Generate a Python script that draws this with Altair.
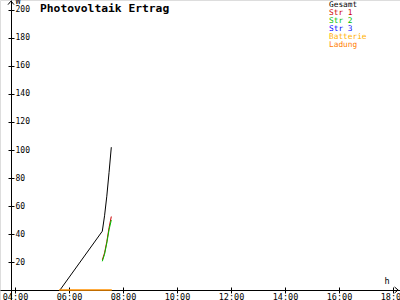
import altair as alt
import pandas as pd


def hours(s):
    h, m = s.split(":")
    return int(h) + int(m) / 60.0


# ---- data ----
series_names = ["Gesamt", "Str 1", "Str 2", "Str 3", "Batterie", "Ladung"]
series_colors = ["#000000", "#cc0000", "#00c000", "#0000ff", "#ffb000", "#ff8000"]

gesamt_times = ["05:40", "07:14", "07:19", "07:24", "07:29", "07:34"]
gesamt_values = [0, 42, 53, 67, 84, 102]

str_times = ["07:14", "07:19", "07:24", "07:29", "07:34"]
str1_values = [21.5, 26.5, 34.5, 44.5, 52.5]
str2_values = [20.5, 25.5, 33.5, 43, 50]

batterie_times = ["05:38", "07:35"]
batterie_values = [0, 0]
ladung_times = ["05:38", "07:35"]
ladung_values = [0, 0]

x_ticks = [4, 6, 8, 10, 12, 14, 16, 18]
y_ticks = [20, 40, 60, 80, 100, 120, 140, 160, 180, 200]

title_text = "Photovoltaik Ertrag"
x_unit = "h"
y_unit = "W"

# ---- long table ----
rows = []
for name, times, vals in [
    ("Gesamt", gesamt_times, gesamt_values),
    ("Str 1", str_times, str1_values),
    ("Str 2", str_times, str2_values),
    ("Batterie", batterie_times, batterie_values),
    ("Ladung", ladung_times, ladung_values),
]:
    for i, (t, v) in enumerate(zip(times, vals)):
        rows.append({"series": name, "t": hours(t), "v": v, "i": i})
df = pd.DataFrame(rows)

# axis ends (arrow tips) in data units
x_min, x_max = 3.444, 18.259
y_min, y_max = -7.14, 207.14
arrows_x = pd.DataFrame({"t": [18.19], "v": [0]})
arrows_y = pd.DataFrame({"t": [3.852], "v": [206.4]})

FONT = "DejaVu Sans Mono"
xs = alt.Scale(domain=[x_min, x_max], nice=False, zero=False)
ys = alt.Scale(domain=[y_min, y_max], nice=False, zero=False)
cs = alt.Scale(domain=series_names, range=series_colors)

x_axis_main = alt.Axis(
    orient="bottom", offset=-10, values=x_ticks,
    labelExpr="(datum.value < 10 ? '0' : '') + datum.value + ':00'",
    tickSize=3, labelPadding=-1, domainColor="black", tickColor="black",
    labelColor="black", labelFont=FONT, labelFontSize=8.5, labelFlush=False,
    labelOverlap=False, grid=False, title=x_unit, titleX=384, titleY=-5,
    titleAlign="left", titleBaseline="bottom", titleAngle=0, titleFont=FONT,
    titleFontSize=8.5, titleFontWeight="normal", titleColor="black",
)
y_axis_main = alt.Axis(
    orient="left", offset=-11, values=y_ticks, tickSize=3, labelPadding=-7,
    labelAlign="left", labelBaseline="middle", domainColor="black",
    tickColor="black", labelColor="black", labelFont=FONT, labelFontSize=8,
    labelFlush=False, labelOverlap=False, grid=False, title=y_unit, titleX=4,
    titleY=5, titleAlign="left", titleBaseline="bottom", titleAngle=0,
    titleFont=FONT, titleFontSize=8.5, titleFontWeight="normal", titleColor="black",
)
x_axis_inner = alt.Axis(
    orient="top", offset=-290, values=x_ticks, tickSize=3, domain=False,
    labels=False, title=None, tickColor="black", grid=False,
)
y_axis_inner = alt.Axis(
    orient="right", offset=-389, values=y_ticks, tickSize=3, domain=False,
    labels=False, title=None, tickColor="black", grid=False,
)


def series_layer(name, xaxis=None, yaxis=None):
    return (
        alt.Chart(df)
        .transform_filter(alt.datum.series == name)
        .mark_line(strokeWidth=1, interpolate="linear")
        .encode(
            x=alt.X("t:Q", scale=xs, axis=xaxis),
            y=alt.Y("v:Q", scale=ys, axis=yaxis),
            order="i:Q",
            color=alt.Color("series:N", scale=cs, legend=None),
        )
    )


arrow_right = (
    alt.Chart(arrows_x)
    .mark_point(shape="M-1.2,-1L0,0L-1.2,1", size=36, filled=False,
                color="black", strokeWidth=1, opacity=1)
    .encode(x=alt.X("t:Q", scale=xs, axis=None), y=alt.Y("v:Q", scale=ys, axis=None))
)
arrow_up = (
    alt.Chart(arrows_y)
    .mark_point(shape="M-1,1.2L0,0L1,1.2", size=36, filled=False,
                color="black", strokeWidth=1, opacity=1)
    .encode(x=alt.X("t:Q", scale=xs, axis=None), y=alt.Y("v:Q", scale=ys, axis=None))
)

plot = alt.layer(
    series_layer("Gesamt", x_axis_main, y_axis_main),
    series_layer("Str 1", x_axis_inner, y_axis_inner),
    series_layer("Str 2"),
    series_layer("Batterie"),
    series_layer("Ladung"),
    arrow_right,
    arrow_up,
).resolve_axis(x="independent", y="independent")

legend = (
    alt.Chart(pd.DataFrame({"series": series_names}))
    .mark_text(align="left", baseline="alphabetic", font=FONT, fontSize=7.8)
    .encode(
        x=alt.value(329),
        y=alt.Y("series:N", axis=None,
                scale=alt.Scale(type="point", domain=series_names,
                                range=[7.3, 47.3], padding=0)),
        text="series:N",
        color=alt.Color("series:N", scale=cs, legend=None),
    )
)

title = (
    alt.Chart(pd.DataFrame({"label": [title_text]}))
    .mark_text(align="left", baseline="alphabetic", font=FONT, fontSize=11.3,
               fontWeight="bold", color="black")
    .encode(x=alt.value(40), y=alt.value(11.5), text="label:N")
)

chart = (
    alt.layer(plot, legend, title)
    .resolve_scale(y="independent")
    .properties(width=400, height=300, autosize="none", padding=0)
    .configure_view(stroke=None)
    .configure(background="white")
)

chart.save("out.html", embed_options={"renderer": "svg", "actions": False})
